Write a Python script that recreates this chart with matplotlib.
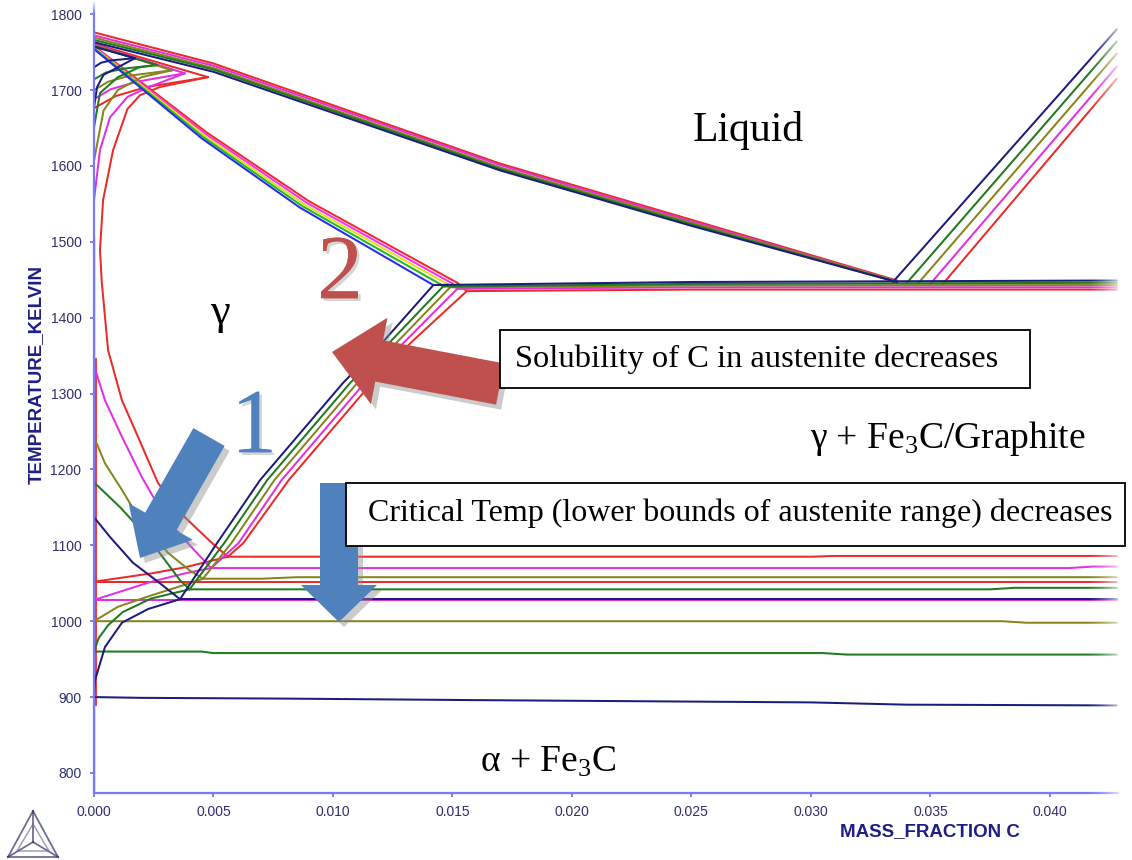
import numpy as np
import matplotlib
matplotlib.use('Agg')
import matplotlib.pyplot as plt
import matplotlib.patheffects as pe
from matplotlib.patches import FancyArrow, Rectangle

# five alloys, drawn navy / green / olive / magenta / red
alloys = ['A', 'B', 'C', 'D', 'E']
colors = ['#1c1c7c', '#1f7a1f', '#85851c', '#e12fe1', '#ec2a2a']
rainbow_colors = ['#2a2aee', '#22b822', '#e0e01a', '#f533f5', '#f52a2a']

# liquidus (L / L+gamma)
liq_x = [0.0, 0.005, 0.017, 0.025, 0.0336]
liq_T = [[1763, 1724, 1594, 1521, 1447],
         [1766, 1727, 1596, 1523, 1447],
         [1769, 1729, 1598, 1525, 1448],
         [1772, 1732, 1601, 1527, 1448],
         [1776, 1735, 1603, 1529, 1449]]

# graphite liquidus on the right
gr_x0 = [0.03343, 0.03402, 0.03448, 0.03498, 0.03548]
gr_T0 = [1447, 1446, 1445, 1444, 1443]
gr_x1 = 0.0428
gr_T1 = [1780, 1764, 1748, 1731, 1715]

# solidus (gamma / L+gamma)
sol_x = [[0, 0.00452, 0.00862, 0.0142],
         [0, 0.00457, 0.00872, 0.0145],
         [0, 0.00462, 0.00882, 0.0148],
         [0, 0.00467, 0.00892, 0.0150],
         [0, 0.00472, 0.00902, 0.0152]]
sol_T = [[1754, 1636, 1545, 1443],
         [1755, 1638, 1547, 1444],
         [1756, 1640, 1549, 1444],
         [1757, 1642, 1551, 1445],
         [1758, 1644, 1553, 1446]]

# Acm line (gamma / gamma+Fe3C)
acm_T = [[1443, 1368, 1314, 1252, 1186, 1103, 1029],
         [1441, 1368, 1314, 1252, 1186, 1103, 1042],
         [1440, 1368, 1314, 1252, 1186, 1103, 1056],
         [1438, 1368, 1314, 1252, 1186, 1103, 1070],
         [1435, 1368, 1314, 1252, 1186, 1103, 1085]]
acm_x = [[0.0142, 0.01209, 0.01042, 0.00874, 0.00695, 0.00515, 0.0036],
         [0.0146, 0.01239, 0.01072, 0.00904, 0.00725, 0.00545, 0.0040],
         [0.0149, 0.01269, 0.01102, 0.00934, 0.00755, 0.00575, 0.00456],
         [0.0152, 0.01299, 0.01132, 0.00964, 0.00785, 0.00605, 0.0049],
         [0.0156, 0.01329, 0.01162, 0.00994, 0.00815, 0.00625, 0.0056]]

# eutectic band, right end
eut_T_right = [1449, 1446, 1443, 1440, 1437]

# peritectic corners on the delta side
per_x = [0.00172, 0.00264, 0.00326, 0.0038, 0.00477]
per_T = [1742, 1733, 1726, 1722, 1717]
dsol_T0 = [1757, 1758, 1759, 1760, 1761]
fan_up_x = [[0, 0.0003, 0.0007],
            [0, 0.0005, 0.0012],
            [0, 0.0006, 0.0015],
            [0, 0.0007, 0.0018],
            [0, 0.0009, 0.0022]]
fan_up_T = [[1730, 1736, 1739],
            [1714, 1723, 1728],
            [1700, 1711, 1719],
            [1688, 1701, 1711],
            [1676, 1692, 1704]]
fan_lo_x = [[0, 0.00013, 0.0004, 0.001],
            [0, 0.00025, 0.001, 0.0019],
            [0, 0.0004, 0.001, 0.002],
            [0, 0.00025, 0.00067, 0.0014, 0.0023]]
fan_lo_T = [[1677, 1704, 1720, 1730],
            [1651, 1696, 1717, 1730],
            [1607, 1673, 1700, 1717],
            [1555, 1621, 1664, 1691, 1704]]

# A3 line (gamma / alpha+gamma), lower part
a3_x = [[0, 0.00067, 0.00163, 0.00276, 0.0036],
        [0, 0.0011, 0.00234, 0.0036, 0.0040],
        [0, 0.00046, 0.00117, 0.0018, 0.0031, 0.0040, 0.00456],
        [0, 0.00046, 0.00117, 0.0020, 0.00297, 0.0038, 0.0049]]
a3_T = [[1137, 1111, 1077, 1050, 1029],
        [1183, 1150, 1107, 1054, 1042],
        [1243, 1208, 1173, 1140, 1090, 1067, 1056],
        [1337, 1291, 1243, 1190, 1137, 1107, 1070]]
# red alloy: closed gamma loop from the peritectic corner down to the eutectoid
loop_x = [0.00477, 0.00276, 0.00192, 0.0014, 0.0008, 0.00038, 0.00025, 0.00033,
          0.00059, 0.00117, 0.00184, 0.00268, 0.0038, 0.00494, 0.0056]
loop_T = [1717, 1704, 1693, 1675, 1621, 1555, 1489, 1445,
          1357, 1291, 1243, 1182, 1137, 1103, 1085]

# alpha / alpha+gamma lines rising from the axis to the eutectoid corner
al_x = [[0, 0.00004, 0.00046, 0.00117, 0.00226, 0.0036],
        [0, 0.0002, 0.0006, 0.0012, 0.0024, 0.0040],
        [0, 0.001, 0.0024, 0.0038, 0.00456],
        [0, 0.001, 0.0024, 0.0038, 0.0049],
        [0, 0.0024, 0.0038, 0.0056]]
al_T = [[900, 922, 966, 998, 1016, 1029],
        [960, 978, 995, 1012, 1030, 1042],
        [1000, 1019, 1034, 1048, 1056],
        [1028, 1038, 1052, 1063, 1070],
        [1052, 1063, 1071, 1085]]

# upper eutectoid lines (from corner to the right)
up_x = [[0.0036, 0.0428],
        [0.0040, 0.0375, 0.0385, 0.0428],
        [0.00456, 0.007, 0.0085, 0.0428],
        [0.0049, 0.0408, 0.0418, 0.0428],
        [0.0056, 0.0300, 0.0310, 0.0428]]
up_T = [[1029, 1029],
        [1042, 1042, 1044, 1044],
        [1056, 1056, 1058, 1058],
        [1070, 1070, 1072, 1072],
        [1085, 1085, 1086, 1086]]

# lower eutectoid lines (alpha+Fe3C boundary, from the axis)
lo_x = [[0, 0.002, 0.008, 0.016, 0.030, 0.034, 0.0428],
        [0, 0.0045, 0.005, 0.0305, 0.0315, 0.0428],
        [0, 0.038, 0.039, 0.0428],
        [0, 0.0428],
        [0, 0.0428]]
lo_T = [[900, 899, 898, 896, 893, 890, 889],
        [960, 960, 958, 958, 956, 956],
        [1000, 1000, 998, 998],
        [1028, 1028],
        [1052, 1052]]

plt.rcParams['mathtext.fontset'] = 'custom'
plt.rcParams['mathtext.rm'] = 'Liberation Serif'
plt.rcParams['mathtext.it'] = 'Liberation Serif:italic'

W, H = 1132, 860
fig = plt.figure(figsize=(W / 100, H / 100), dpi=100)
ax = fig.add_axes([94 / W, 67 / H, (1118 - 94) / W, (793 - 2) / H])
ax.set_xlim(0, 0.04285)
ax.set_ylim(773.6, 1816)

lw = 1.45


def line(xs, ts, c, z=2, w=lw):
    ax.plot(xs, ts, color=c, lw=w, zorder=z, solid_joinstyle='round',
            solid_capstyle='round')


# near-axis boundaries
ax.plot([0, 0], [774, 1505], color='#1c1c7c', lw=1.6, zorder=2)
ax.plot([0.00007, 0.00007], [890, 1345], color=colors[4], lw=1.3, zorder=2)

for k in reversed(range(5)):
    c = colors[k]
    line(liq_x, liq_T[k], c)
    line([gr_x0[k], gr_x1], [gr_T0[k], gr_T1[k]], c)
    line(sol_x[k], sol_T[k], rainbow_colors[k])
    line(acm_x[k], acm_T[k], c)
    # eutectic band: solidus end -> Acm top -> right edge
    line([sol_x[k][-1], acm_x[k][0], 0.025, 0.0428],
         [sol_T[k][-1], acm_T[k][0], (acm_T[k][0] + eut_T_right[k]) / 2 + 1, eut_T_right[k]], c)
    # delta region
    line([0, per_x[k]], [dsol_T0[k], per_T[k]], c)
    line(fan_up_x[k] + [per_x[k]], fan_up_T[k] + [per_T[k]], c)
    if k < 4:
        line(fan_lo_x[k] + [per_x[k]], fan_lo_T[k] + [per_T[k]], c)
        line(a3_x[k], a3_T[k], c)
    else:
        line(loop_x, loop_T, c)
    line(al_x[k], al_T[k], c)
    line(lo_x[k], lo_T[k], c)
    line(up_x[k], up_T[k], c)

# axes styling
for s in ['top', 'right']:
    ax.spines[s].set_visible(False)
for s in ['left', 'bottom']:
    ax.spines[s].set_color('#7a7af5')
    ax.spines[s].set_linewidth(1.6)
ax.set_xticks(np.arange(0, 0.0401, 0.005))
ax.set_xticklabels(['%.3f' % v for v in np.arange(0, 0.0401, 0.005)])
ax.set_yticks(range(800, 1801, 100))
ax.tick_params(direction='out', length=3, width=1.2, color='#6a6ae0',
               labelcolor='#2e2e6e', labelsize=10, pad=6)
for t in ax.get_xticklabels() + ax.get_yticklabels():
    t.set_family('Liberation Sans')

fig.text(930 / W, 1 - 832 / H, 'MASS_FRACTION C', ha='center', va='center',
         fontsize=13.5, fontweight='bold', color='#1e1e84', family='Liberation Sans')
fig.text(36 / W, 1 - 375 / H, 'TEMPERATURE_KELVIN', ha='center', va='center',
         rotation=90, fontsize=13.5, fontweight='bold', color='#1e1e84',
         family='Liberation Sans')

# overlay in pixel units for labels and arrows
ov = fig.add_axes([0, 0, 1, 1])
ov.axis('off')

# fade of the curves at the right edge
fade = np.ones((1, 64, 4))
fade[..., 3] = np.linspace(0, 1, 64) ** 1.5
ov.imshow(fade, extent=[1086, 1126, 802, 0], aspect='auto', zorder=1,
          interpolation='bilinear')
vfade = np.ones((64, 1, 4))
vfade[:, 0, 3] = np.linspace(1, 0, 64)
ov.imshow(vfade, extent=[88, 100, 14, 0], aspect='auto', zorder=1,
          interpolation='bilinear')
ov.set_xlim(0, W)
ov.set_ylim(H, 0)

serif = 'Liberation Serif'
ov.text(748, 130, 'Liquid', ha='center', va='center', fontsize=30, family=serif, zorder=5)
ov.text(220, 313, 'γ', ha='center', va='center', fontsize=32, family=serif, zorder=5)
ov.text(810, 438, 'γ + Fe$_3$C/Graphite', ha='left', va='center', fontsize=27,
        family=serif, zorder=5)
ov.text(480, 762, 'α + Fe$_3$C', ha='left', va='center', fontsize=27,
        family=serif, zorder=5)

shadow = [pe.withSimplePatchShadow(offset=(2, -2), shadow_rgbFace='#888888', alpha=0.35),
          pe.Normal()]
ov.text(340, 276, '2', ha='center', va='center', fontsize=66, family=serif,
        color='#c0504d', zorder=5, path_effects=shadow)
ov.text(254, 430, '1', ha='center', va='center', fontsize=66, family=serif,
        color='#4f81bd', zorder=5, path_effects=shadow)

# block arrows with a soft grey shadow
arrows = [((500, 384, -168, -32, 42, 88, 48), '#c0504d'),
          ((209, 437, -69, 121, 36, 74, 42), '#4f81bd'),
          ((339, 483, 0, 139, 38, 76, 37), '#4f81bd')]
for (x0, y0, dx, dy, wd, hw, hl), c in arrows:
    ov.add_patch(FancyArrow(x0 + 5, y0 + 5, dx, dy, width=wd, head_width=hw,
                            head_length=hl, length_includes_head=True,
                            color='#8c8c8c', alpha=0.45, lw=0, zorder=3))
    ov.add_patch(FancyArrow(x0, y0, dx, dy, width=wd, head_width=hw,
                            head_length=hl, length_includes_head=True,
                            color=c, lw=0, zorder=4))

# callout boxes
ov.add_patch(Rectangle((500, 330), 530, 58, fc='white', ec='black', lw=1.3, zorder=6))
ov.text(757, 359, 'Solubility of C in austenite decreases', ha='center', va='center',
        fontsize=23.4, family=serif, zorder=7)
ov.add_patch(Rectangle((346, 483), 779, 63, fc='white', ec='black', lw=1.3, zorder=6))
ov.text(740, 513, 'Critical Temp (lower bounds of austenite range) decreases',
        ha='center', va='center', fontsize=23, family=serif, zorder=7)

# triangle logo
top, bl, br, ctr = (33, 811), (8, 857), (58, 857), (33, 842)
for p, q in [(top, bl), (bl, br), (br, top), (top, ctr), (ctr, bl), (ctr, br)]:
    ov.plot([p[0], q[0]], [p[1], q[1]], color='#3c3c6e', lw=1.3, alpha=0.75, zorder=5)
inner = [(33, 824), (17, 851), (49, 851), (33, 824)]
ov.plot([p[0] for p in inner], [p[1] for p in inner], color='#6a6a96', lw=1.0,
        alpha=0.7, zorder=5)

fig.savefig('out.png', dpi=100)
